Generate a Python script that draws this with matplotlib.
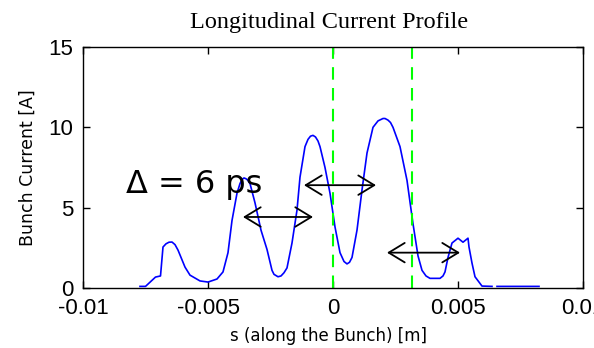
import numpy as np
import matplotlib
matplotlib.use("Agg")
import matplotlib.pyplot as plt

plt.rcParams["axes.unicode_minus"] = False

# current profile (s in m, current in A)
s_pos = [-0.00772, -0.0075, -0.0071, -0.0069, -0.0068, -0.00668, -0.00656, -0.00644,
         -0.00632, -0.0062, -0.00592, -0.00572, -0.00532, -0.005, -0.00464, -0.0044,
         -0.0042, -0.00404, -0.00384, -0.00372, -0.00364, -0.00356, -0.00348, -0.0034,
         -0.00332, -0.00312, -0.00288, -0.00264, -0.00244, -0.00236, -0.0022, -0.00208,
         -0.00196, -0.00184, -0.00164, -0.00144, -0.00132, -0.00112, -0.001, -0.0009,
         -0.0008, -0.0007, -0.0006, -0.00052, -0.00032, -0.00012, 0.00008, 0.00028,
         0.00044, 0.00056, 0.00066, 0.00076, 0.00096, 0.00116, 0.00136, 0.0016,
         0.0018, 0.002, 0.00208, 0.0022, 0.0023, 0.0024, 0.00268, 0.00296,
         0.0032, 0.0034, 0.00356, 0.00372, 0.00388, 0.00428, 0.0044, 0.00448,
         0.0046, 0.00476, 0.005, 0.0052, 0.0054, 0.00544, 0.00556, 0.00568,
         0.00596, 0.00636, 0.00646, 0.00656, 0.00824]
current = [0.1, 0.1, 0.68, 0.75, 2.55, 2.75, 2.85, 2.86,
           2.7, 2.36, 1.3, 0.8, 0.44, 0.37, 0.56, 1.0,
           2.2, 4.2, 5.9, 6.5, 6.75, 6.85, 6.8, 6.7,
           6.5, 5.3, 3.6, 2.4, 1.1, 0.85, 0.7, 0.75,
           0.95, 1.25, 2.8, 4.85, 6.9, 8.8, 9.25, 9.45,
           9.5, 9.4, 9.15, 8.8, 7.5, 5.9, 3.8, 2.2,
           1.65, 1.5, 1.6, 1.9, 3.6, 6.1, 8.4, 10.0,
           10.4, 10.55, 10.55, 10.45, 10.3, 10.0, 8.8, 6.7,
           4.0, 2.0, 1.1, 0.75, 0.6, 0.6, 0.75, 1.0,
           1.9, 2.8, 3.1, 2.85, 3.1, 2.55, 1.55, 0.7,
           0.12, 0.1, np.nan, 0.1, 0.1]

window_lines = [0.0, 0.00316]

# double arrows: (s_start, s_end, current level)
arrow_start = [-0.0036, -0.00116, 0.00216]
arrow_end = [-0.0008, 0.00172, 0.00508]
arrow_level = [4.42, 6.4, 2.2]

x_ticks = [-0.01, -0.005, 0, 0.005, 0.01]
x_labels = ["-0.01", "-0.005", "0", "0.005", "0.01"]
y_ticks = [0, 5, 10, 15]

fig = plt.figure(figsize=(5.94, 3.48), dpi=100)
ax = fig.add_axes([83 / 594, 1 - 288 / 348, 500 / 594, 241 / 348])

ax.plot(s_pos, current, color="#0000ff", linewidth=1.2)
for xv in window_lines:
    ax.axvline(xv, color="#00ff00", linewidth=1.5, linestyle=(0, (6, 4)))

for a, b, lev in zip(arrow_start, arrow_end, arrow_level):
    ax.annotate("", xy=(b, lev), xytext=(a, lev),
                arrowprops=dict(arrowstyle="<->,head_length=1.15,head_width=0.7",
                                color="black", lw=1.3, shrinkA=0, shrinkB=0))

ax.text(-0.00828, 5.9, "\u0394 = 6 ps", fontsize=23, family="DejaVu Sans",
        va="baseline", ha="left")

ax.set_xlim(-0.01, 0.01)
ax.set_ylim(0, 15)
ax.set_xticks(x_ticks)
ax.set_xticklabels(x_labels)
ax.set_yticks(y_ticks)
ax.tick_params(direction="in", length=5, width=1, top=True, right=True, pad=7,
               labelsize=16)
for lbl in ax.get_xticklabels() + ax.get_yticklabels():
    lbl.set_family("Liberation Sans")
for sp in ax.spines.values():
    sp.set_linewidth(1)

fig.text(329 / 594, 1 - 28 / 348, "Longitudinal Current Profile", ha="center",
         va="baseline", fontsize=17.5, family="Liberation Serif")
fig.text(329 / 594, 1 - 336 / 348, "s (along the Bunch) [m]", ha="center",
         va="center", fontsize=12, family="DejaVu Sans")
fig.text(28 / 594, 1 - 168 / 348, "Bunch Current [A]", ha="center", va="center",
         rotation=90, fontsize=12.5, family="DejaVu Sans")

fig.savefig("out.png", dpi=100)
